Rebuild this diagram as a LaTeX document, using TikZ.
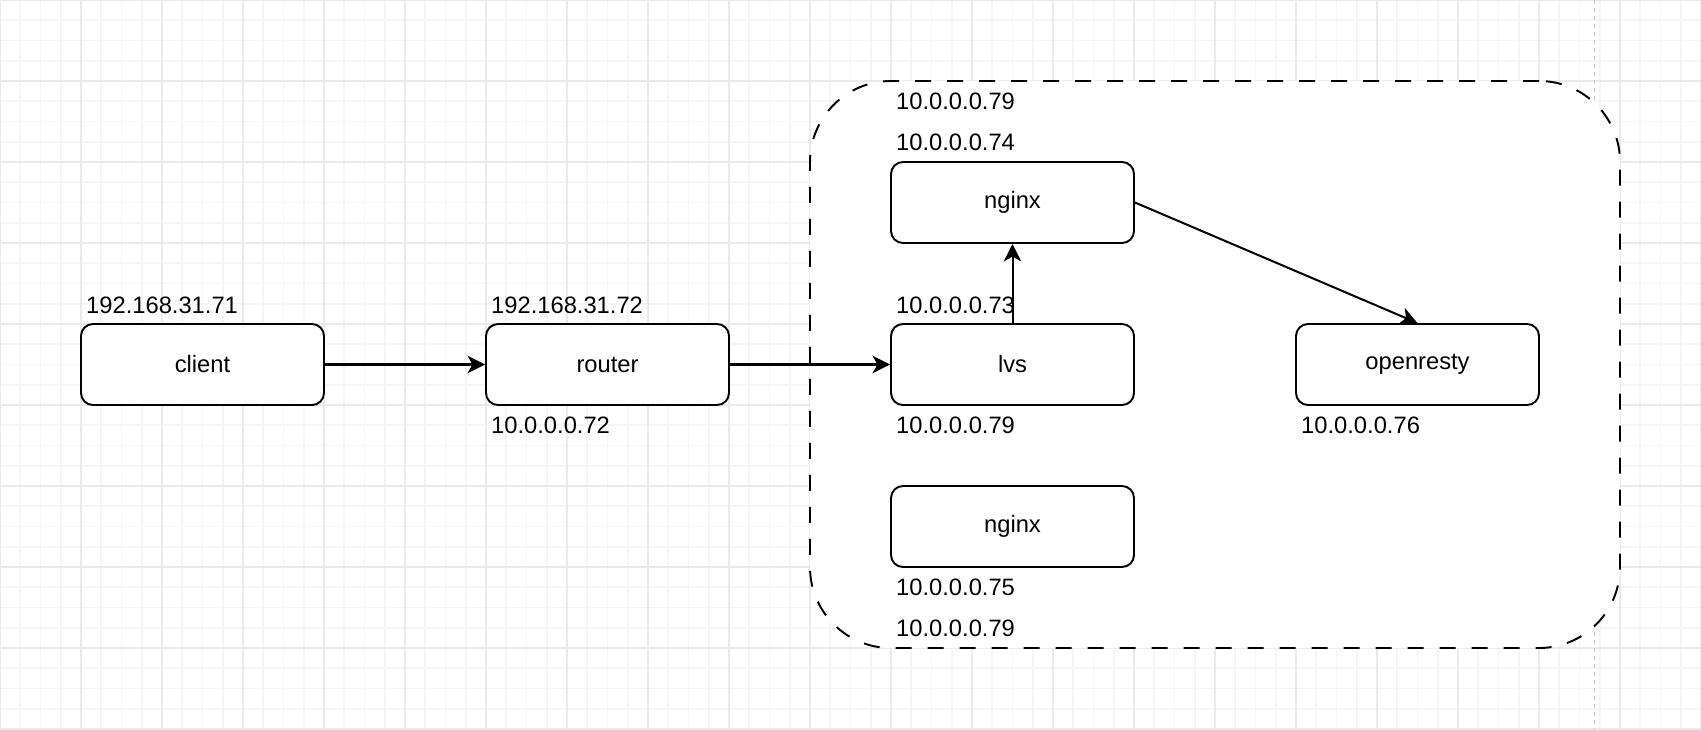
\documentclass[tikz,border=0pt]{standalone}
\usepackage{fontspec}
\setmainfont{Liberation Sans}
\usepackage{tikz}
\usetikzlibrary{arrows.meta,positioning}
\usepackage{xcolor}
\definecolor{gdMinor}{HTML}{F5F5F5}
\definecolor{gdMajor}{HTML}{EAEAEA}
\definecolor{gdPage}{HTML}{C4C4C4}
\tikzset{
    % boxes and labels
    hostbox/.style={rectangle,draw=black,fill=white,line width=1.1pt,rounded corners=0.24cm,minimum width=4.86cm,minimum height=1.62cm,font=\fontsize{13.5}{15}\selectfont},
    iplabel/.style={anchor=west,inner sep=0pt,font=\fontsize{13.5}{15}\selectfont},
    % flow
    link/.style={-{Stealth[length=0.35cm,width=0.35cm,inset=0.1cm]},line width=1.15pt}
}

\begin{document}
\begin{tikzpicture}[x=1.62cm,y=-1.62cm,
    groupbox/.style={draw=black,fill=white,line width=1.1pt,dash pattern=on 0.32cm off 0.32cm,rounded corners=1.62cm,minimum width=16.2cm,minimum height=11.34cm},
    gridline/.style={gdMinor,line width=0.035cm},
    gridmajor/.style={gdMajor,line width=0.035cm}
]
\useasboundingbox (0,0) rectangle (21,9);

% Background grid
\fill[white] (0,0) rectangle (21,9);
\foreach \g in {0,0.25,...,21} \draw[gridline] (\g,0) -- (\g,9);
\foreach \g in {0,0.25,...,9} \draw[gridline] (0,\g) -- (21,\g);
\foreach \g in {0,...,21} \draw[gridmajor] (\g,0) -- (\g,9);
\foreach \g in {0,...,9} \draw[gridmajor] (0,\g) -- (21,\g);
\draw[gdPage,line width=0.5pt,dash pattern=on 0.08cm off 0.08cm] (19.69,0) -- (19.69,9);

% Load balancer group
\node[groupbox] (lb_group) at (15,4.5) {};

% Hosts
\node[hostbox] (client) at (2.5,4.5) {client};
\node[hostbox] (router) at (7.5,4.5) {router};
\node[hostbox] (lvs) at (12.5,4.5) {lvs};
\node[hostbox] (nginx_a) at (12.5,2.5) {nginx};
\node[hostbox] (nginx_b) at (12.5,6.5) {nginx};
\node[hostbox] (openresty) at (17.5,4.5) {openresty};

% Addresses
\node[iplabel] (client_ip) at (1.06,3.765) {192.168.31.71};
\node[iplabel] (router_wan) at (6.06,3.765) {192.168.31.72};
\node[iplabel] (router_lan) at (6.06,5.247) {10.0.0.0.72};
\node[iplabel] (lvs_ip) at (11.06,3.765) {10.0.0.0.73};
\node[iplabel] (lvs_vip) at (11.06,5.247) {10.0.0.0.79};
\node[iplabel] (nginx_a_vip) at (11.06,1.247) {10.0.0.0.79};
\node[iplabel] (nginx_a_ip) at (11.06,1.753) {10.0.0.0.74};
\node[iplabel] (nginx_b_ip) at (11.06,7.247) {10.0.0.0.75};
\node[iplabel] (nginx_b_vip) at (11.06,7.753) {10.0.0.0.79};
\node[iplabel] (openresty_ip) at (16.06,5.247) {10.0.0.0.76};

% Connections
\draw[link] (client) -- (router);
\draw[link] (router) -- (lvs);
\draw[link] (lvs) -- (nginx_a);
\draw[link] (nginx_a.east) -- (openresty.north);

\end{tikzpicture}
\end{document}
